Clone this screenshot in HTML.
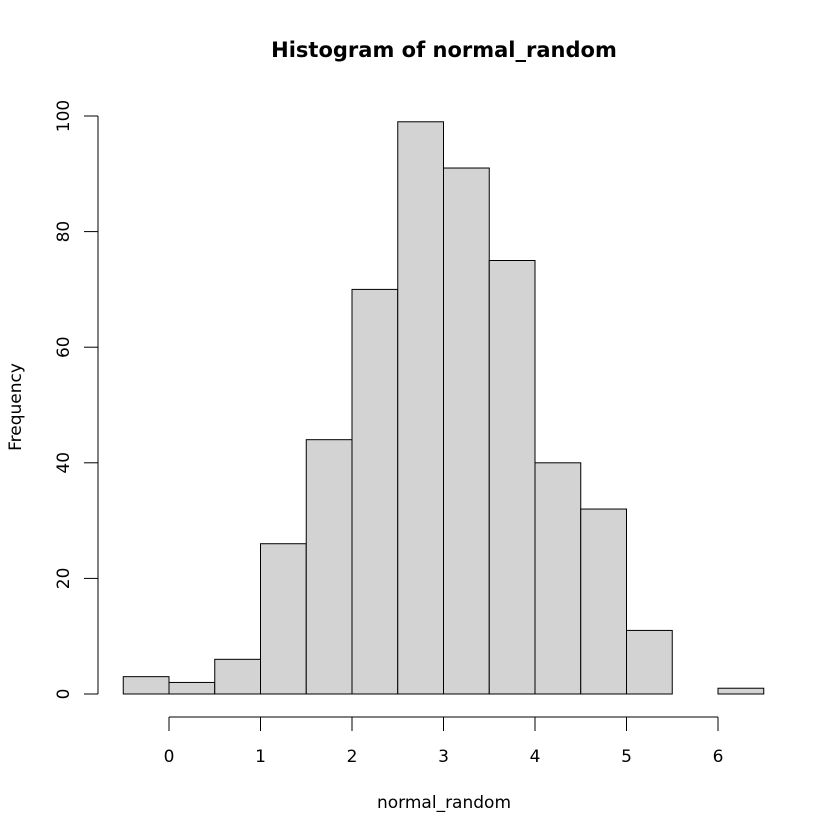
<!DOCTYPE html>
<html><head><meta charset="utf-8"><style>
html,body{margin:0;padding:0;background:#fff}
svg{display:block;font-family:"DejaVu Sans","Liberation Sans",sans-serif}
</style></head><body>
<svg width="840" height="840" viewBox="0 0 840 840">
<rect width="840" height="840" fill="#fff"/>
<text x="444" y="57" text-anchor="middle" font-size="21" font-weight="bold">Histogram of normal_random</text>
<g id="bars"></g>
<g id="xaxis"></g>
<g id="yaxis"></g>
<text x="444" y="808" text-anchor="middle" font-size="17">normal_random</text>
<text x="0" y="0" transform="translate(21,407) rotate(-90)" text-anchor="middle" font-size="17">Frequency</text>
</svg>
<script>
const binStarts = [-0.5,0,0.5,1,1.5,2,2.5,3,3.5,4,4.5,5,5.5,6];
const binWidth = 0.5;
const counts = [3,2,6,26,44,70,99,91,75,40,32,11,0,1];
const xTicks = [0,1,2,3,4,5,6];
const yTicks = [0,20,40,60,80,100];
const NS = "http://www.w3.org/2000/svg";
function xs(v){return 169 + v*(718-169)/6;}
function ys(v){return 694 - v*(694-116)/100;}
function mk(tag, attrs){const e=document.createElementNS(NS,tag);for(const k in attrs)e.setAttribute(k,attrs[k]);return e;}
const bars=document.getElementById('bars');
binStarts.forEach((b,i)=>{
  const x0=xs(b), x1=xs(b+binWidth), y=ys(counts[i]);
  const r=mk('rect',{x:x0,y:y,width:x1-x0,height:ys(0)-y,fill:'#d3d3d3',stroke:'#000','stroke-width':1});
  
  
  bars.appendChild(r);
});
const xa=document.getElementById('xaxis');
xa.appendChild(mk('line',{x1:xs(xTicks[0]),x2:xs(xTicks[xTicks.length-1]),y1:717,y2:717,stroke:'#000'}));
xTicks.forEach(t=>{
  xa.appendChild(mk('line',{x1:xs(t),x2:xs(t),y1:717,y2:731,stroke:'#000'}));
  const tx=mk('text',{x:xs(t),y:762,'text-anchor':'middle','font-size':17});
  tx.textContent=t;
  
  
  xa.appendChild(tx);
});
const ya=document.getElementById('yaxis');
ya.appendChild(mk('line',{x1:98,x2:98,y1:ys(yTicks[0]),y2:ys(yTicks[yTicks.length-1]),stroke:'#000'}));
yTicks.forEach(t=>{
  ya.appendChild(mk('line',{x1:84,x2:98,y1:ys(t),y2:ys(t),stroke:'#000'}));
  const tx=mk('text',{x:0,y:0,transform:'translate(69,'+ys(t)+') rotate(-90)','text-anchor':'middle','font-size':17});
  tx.textContent=t;
  
  
  ya.appendChild(tx);
});
</script>
</body></html>
